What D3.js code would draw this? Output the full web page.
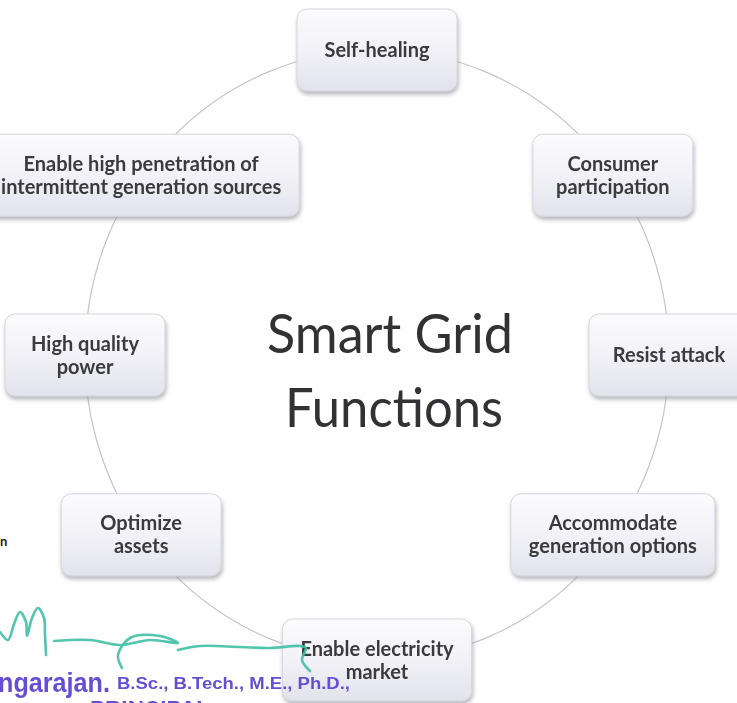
<!DOCTYPE html>
<html>
<head>
<meta charset="utf-8">
<script src="https://cdn.jsdelivr.net/npm/d3@7"></script>
<style>
  html, body { margin: 0; padding: 0; background: #ffffff; }
  svg { display: block; }
</style>
</head>
<body>
<script>
// ---- data ----
const nodeLabels = [
  ["Self-healing"],
  ["Consumer", "participation"],
  ["Resist attack"],
  ["Accommodate", "generation options"],
  ["Enable electricity", "market"],
  ["Optimize", "assets"],
  ["High quality", "power"],
  ["Enable high penetration of", "intermittent generation sources"]
];
const titleLines = ["Smart Grid", "Functions"];
const stampName = "ngarajan.";
const stampDegrees = "B.Sc., B.Tech., M.E., Ph.D.,";
const stampRole = "PRINCIPAL";

// ---- drawing ----
const W = 737, H = 703;
const svg = d3.select("body").append("svg").attr("width", W).attr("height", H);
const defs = svg.append("defs");

const grad = defs.append("linearGradient").attr("id", "boxFill")
  .attr("x1", 0).attr("y1", 0).attr("x2", 0).attr("y2", 1);
grad.append("stop").attr("offset", "0%").attr("stop-color", "#fcfcfe");
grad.append("stop").attr("offset", "55%").attr("stop-color", "#f0f0f6");
grad.append("stop").attr("offset", "100%").attr("stop-color", "#e2e2eb");

const shadow = defs.append("filter").attr("id", "shadow")
  .attr("x", "-20%").attr("y", "-20%").attr("width", "140%").attr("height", "150%");
shadow.append("feDropShadow").attr("dx", 1).attr("dy", 3).attr("stdDeviation", 2.2)
  .attr("flood-color", "#7a7a88").attr("flood-opacity", 0.55);

const soft = defs.append("filter").attr("id", "soft");
soft.append("feGaussianBlur").attr("stdDeviation", 0.35);

const cx = 377, cy = 355, rx = 292, ry = 305;
const squash = 0.73;
const n = nodeLabels.length;
const angle = d3.scaleLinear().domain([0, n]).range([-Math.PI / 2, 1.5 * Math.PI]);

function pos(i) {
  const t = angle(i);
  const phi = Math.atan2(Math.sin(t) * squash, Math.cos(t));
  return [cx + rx * Math.cos(phi), cy + ry * Math.sin(phi)];
}

// connector ring
svg.append("ellipse")
  .attr("cx", cx).attr("cy", cy).attr("rx", rx).attr("ry", ry)
  .attr("fill", "none").attr("stroke", "#c4c4c8").attr("stroke-width", 1.2);

const fontSize = 20;
// measure helper
const measure = svg.append("text")
  .attr("font-family", "Lato, 'Open Sans', sans-serif")
  .attr("font-weight", 700).attr("font-size", fontSize).attr("visibility", "hidden");
function textW(s) { measure.text(s); return measure.node().getComputedTextLength(); }

const lineH = 23, boxH = 82, minW = 160, pad = 18;

const nodes = svg.append("g").selectAll("g").data(nodeLabels).join("g")
  .attr("transform", (d, i) => `translate(${pos(i)[0]},${pos(i)[1]})`);

nodes.each(function(lines) {
  const g = d3.select(this);
  const tw = d3.max(lines, textW);
  const bw = Math.max(minW, tw + 2 * pad);
  g.append("rect")
    .attr("x", -bw / 2).attr("y", -boxH / 2).attr("width", bw).attr("height", boxH)
    .attr("rx", 10).attr("ry", 10)
    .attr("fill", "url(#boxFill)").attr("stroke", "#d6d6de").attr("stroke-width", 1)
    .attr("filter", "url(#shadow)");
  const txt = g.append("text")
    .attr("text-anchor", "middle")
    .attr("font-family", "Lato, 'Open Sans', sans-serif")
    .attr("font-weight", 700).attr("font-size", fontSize)
    .attr("fill", "#3a3a3e").attr("filter", "url(#soft)");
  const y0 = -((lines.length - 1) * lineH) / 2 + 7;
  lines.forEach((l, k) => {
    txt.append("tspan").attr("x", 0).attr("y", y0 + k * lineH).text(l);
  });
});
measure.remove();

// title
const title = svg.append("text")
  .attr("text-anchor", "middle")
  .attr("font-family", "Lato, 'Open Sans', sans-serif")
  .attr("font-weight", 400).attr("font-size", 55)
  .attr("fill", "#333336").attr("filter", "url(#soft)");
const titleLayout = [{ x: 390, y: 353, w: 246 }, { x: 394, y: 427, w: 218 }];
titleLines.forEach((l, k) => {
  title.append("tspan")
    .attr("x", titleLayout[k].x).attr("y", titleLayout[k].y)
    .attr("textLength", titleLayout[k].w).attr("lengthAdjust", "spacingAndGlyphs")
    .text(l);
});

// small scan mark on left edge
svg.append("text").attr("x", 0).attr("y", 546)
  .attr("font-family", "Lato, sans-serif").attr("font-weight", 700)
  .attr("font-size", 13).attr("fill", "#222").text("n");

// signature (teal handwriting)
const sig = d3.line().curve(d3.curveCatmullRom);
const sigStroke = (pts) => svg.append("path").attr("d", sig(pts))
  .attr("fill", "none").attr("stroke", "#3fbfa5").attr("stroke-width", 2.6)
  .attr("stroke-linecap", "round").attr("opacity", 0.9);
sigStroke([[0, 632], [8, 640], [14, 624], [20, 612], [26, 622], [27, 636], [32, 618], [38, 608], [44, 618], [45, 635], [46, 655]]);
sigStroke([[54, 641], [90, 640], [120, 645], [150, 640], [178, 643], [160, 636], [130, 638], [118, 655], [122, 668]]);
sigStroke([[178, 650], [200, 646], [240, 647], [270, 648], [300, 646], [306, 648], [302, 660], [310, 671]]);

// stamp (purple)
const stamp = svg.append("g").attr("fill", "#5a3fcf").attr("font-family", "'Liberation Sans', Arial, sans-serif")
  .attr("font-weight", 700).attr("opacity", 0.92);
stamp.append("text").attr("x", -2).attr("y", 692).attr("font-size", 27)
  .attr("textLength", 112).attr("lengthAdjust", "spacingAndGlyphs").text(stampName);
stamp.append("text").attr("x", 117).attr("y", 689).attr("font-size", 16)
  .attr("textLength", 233).attr("lengthAdjust", "spacingAndGlyphs").text(stampDegrees);
stamp.append("text").attr("x", 90).attr("y", 718).attr("font-size", 24)
  .attr("textLength", 120).attr("lengthAdjust", "spacingAndGlyphs").text(stampRole);
</script>
</body>
</html>
